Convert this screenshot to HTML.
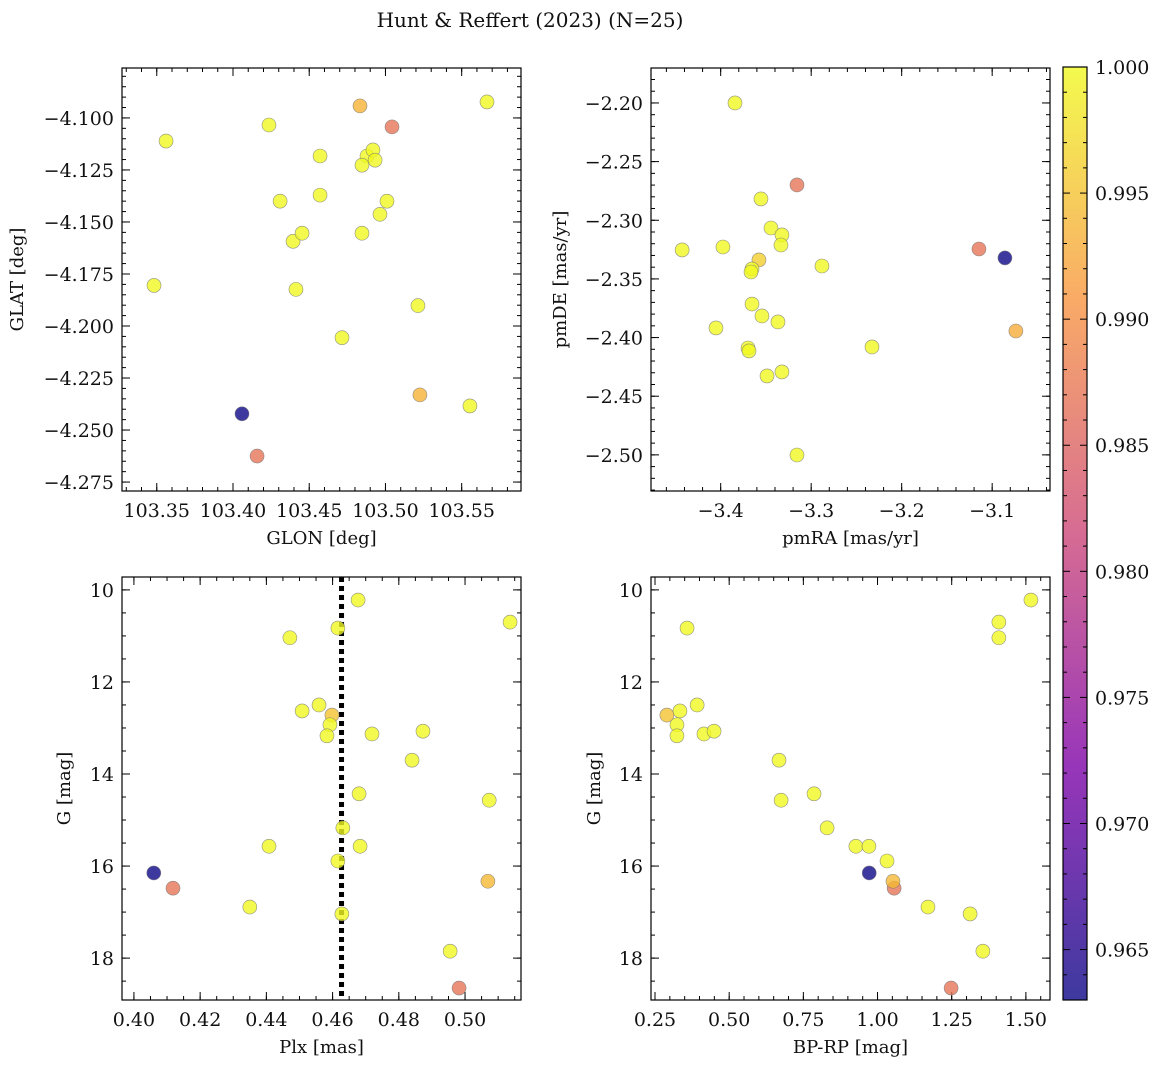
<!DOCTYPE html>
<html><head><meta charset="utf-8"><style>
body{margin:0;background:#fff;}
svg text{font-family:"DejaVu Serif","Liberation Serif",serif;fill:#111;}
</style></head><body>
<svg id="fig" width="1161" height="1067" xmlns="http://www.w3.org/2000/svg">
<defs><linearGradient id="plasma" x1="0" y1="1" x2="0" y2="0">
<stop offset="0" stop-color="#0d0887"/><stop offset="0.25" stop-color="#7e03a8"/><stop offset="0.5" stop-color="#cc4778"/><stop offset="0.75" stop-color="#f89540"/><stop offset="1" stop-color="#f0f921"/></linearGradient></defs>
<text x="530" y="27" font-size="20" text-anchor="middle">Hunt &amp; Reffert (2023) (N=25)</text>
</svg>
<script>
const glon=[103.4833,103.5043,103.5666,103.4236,103.3561,103.4571,103.4879,103.4918,103.4932,103.4846,103.4309,103.4571,103.5010,103.4964,103.4394,103.4453,103.4846,103.3482,103.4413,103.5213,103.4715,103.5226,103.5554,103.4059,103.4158];
const glat=[-4.0942,-4.1043,-4.0923,-4.1034,-4.1111,-4.1183,-4.1183,-4.1154,-4.1203,-4.1227,-4.1400,-4.1371,-4.1400,-4.1463,-4.1593,-4.1554,-4.1554,-4.1805,-4.1824,-4.1902,-4.2056,-4.2331,-4.2384,-4.2422,-4.2625];
const glatC=[0.9935,0.987,1,1,1,1,1,1,1,1,1,1,1,1,1,1,1,1,1,1,1,0.9935,1,0.963,0.987];
const pmra=[-3.3842,-3.3157,-3.3555,-3.3444,-3.3323,-3.3334,-3.3577,-3.3654,-3.3665,-3.2881,-3.1146,-3.0859,-3.4426,-3.3975,-3.3654,-3.3544,-3.3367,-3.4052,-3.3698,-3.3687,-3.0738,-3.2328,-3.3488,-3.3323,-3.3157];
const pmde=[-2.200,-2.2699,-2.2818,-2.3066,-2.3125,-2.3211,-2.3338,-2.3415,-2.3441,-2.3390,-2.3245,-2.3321,-2.3253,-2.3228,-2.3714,-2.3816,-2.3867,-2.3918,-2.4089,-2.4114,-2.3944,-2.4080,-2.4327,-2.4293,-2.5001];
const pmC=[1,0.987,1,1,1,1,0.996,1,1,1,0.987,0.963,1,1,1,1,1,1,1,1,0.993,1,1,1,1];
const plx=[0.4677,0.4616,0.5136,0.4471,0.4559,0.4508,0.4598,0.4592,0.4583,0.4719,0.4873,0.4840,0.4680,0.5073,0.4631,0.4408,0.4683,0.4616,0.4060,0.4118,0.5069,0.4350,0.4628,0.4955,0.4982];
const gmag=[10.22,10.83,10.70,11.04,12.50,12.63,12.72,12.93,13.17,13.13,13.07,13.70,14.43,14.57,15.17,15.57,15.57,15.89,16.15,16.48,16.33,16.89,17.04,17.85,18.65];
const gC=[1,1,1,1,1,1,0.995,1,1,1,1,1,1,1,1,1,1,1,0.963,0.987,0.994,1,1,1,0.987];
const bprp=[1.517,0.358,1.409,1.409,0.392,0.334,0.290,0.324,0.324,0.415,0.449,0.668,0.786,0.675,0.830,0.927,0.971,1.032,0.972,1.056,1.052,1.170,1.312,1.355,1.248];
const plxLine=[0.4627];
const NS="http://www.w3.org/2000/svg";
const svg=document.getElementById('fig');
function mk(t,a,p){const e=document.createElementNS(NS,t);for(const k in a)e.setAttribute(k,a[k]);(p||svg).appendChild(e);return e;}
const stops=[[0,[13,8,135]],[0.25,[126,3,168]],[0.5,[204,71,120]],[0.75,[248,149,64]],[1,[240,249,33]]];
const cmin=0.963,cmax=1.0;
function cmap(v){let t=Math.max(0,Math.min(1,(v-cmin)/(cmax-cmin)));for(let i=1;i<stops.length;i++){if(t<=stops[i][0]){const a=stops[i-1],b=stops[i];const f=(t-a[0])/(b[0]-a[0]);return 'rgb('+a[1].map((c,j)=>Math.round(c+(b[1][j]-c)*f)).join(',')+')';}}return 'rgb(240,249,33)';}
function fmt(v,d){return (v<-1e-9?'\u2212':'')+Math.abs(v).toFixed(d);}
function panel(o){
 const {x0,y0,x1,y1,xr,yr}=o;
 const sx=v=>x0+(v-xr[0])/(xr[1]-xr[0])*(x1-x0);
 const sy=v=>y1-(v-yr[0])/(yr[1]-yr[0])*(y1-y0);
 const g=mk('g',{});
 const ticks=(lo,hi,st)=>{const r=[];for(let v=Math.ceil(lo/st-1e-6)*st;v<=hi+1e-9;v+=st)r.push(v);return r;};
 const tx=ticks(Math.min(...xr),Math.max(...xr),o.xt),mx=ticks(Math.min(...xr),Math.max(...xr),o.xm);
 const ty=ticks(Math.min(...yr),Math.max(...yr),o.yt),my=ticks(Math.min(...yr),Math.max(...yr),o.ym);
 mx.forEach(v=>{const X=sx(v);mk('line',{x1:X,x2:X,y1:y1,y2:y1-4,stroke:'#000'},g);mk('line',{x1:X,x2:X,y1:y0,y2:y0+4,stroke:'#000'},g);});
 my.forEach(v=>{const Y=sy(v);mk('line',{x1:x0,x2:x0+4,y1:Y,y2:Y,stroke:'#000'},g);mk('line',{x1:x1,x2:x1-4,y1:Y,y2:Y,stroke:'#000'},g);});
 tx.forEach(v=>{const X=sx(v);mk('line',{x1:X,x2:X,y1:y1,y2:y1-8,stroke:'#000'},g);mk('line',{x1:X,x2:X,y1:y0,y2:y0+8,stroke:'#000'},g);
  const t=mk('text',{x:X,y:y1+26,'font-size':19,'text-anchor':'middle'},g);t.textContent=fmt(v,o.xd);});
 ty.forEach(v=>{const Y=sy(v);mk('line',{x1:x0,x2:x0+8,y1:Y,y2:Y,stroke:'#000'},g);mk('line',{x1:x1,x2:x1-8,y1:Y,y2:Y,stroke:'#000'},g);
  const t=mk('text',{x:x0-8,y:Y+7,'font-size':19,'text-anchor':'end'},g);t.textContent=fmt(v,o.yd);});
 if(o.vline){const X=sx(o.vline);const l=mk('line',{x1:X,x2:X,y1:y0,y2:y1,stroke:'#000','stroke-width':5,'stroke-dasharray':'5,4'},g);}
 o.xs.forEach((v,i)=>{const c=mk('circle',{cx:sx(v),cy:sy(o.ys[i]),r:7,fill:cmap(o.cs[i]),'fill-opacity':0.8,stroke:'#777','stroke-width':0.6,'stroke-opacity':0.8},g);});
 mk('rect',{x:x0,y:y0,width:x1-x0,height:y1-y0,fill:'none',stroke:'#000','stroke-width':1.2},g);
 const xl=mk('text',{x:(x0+x1)/2,y:y1+53,'font-size':18,'text-anchor':'middle'},g);xl.textContent=o.xl;
 const yl=mk('text',{x:o.ylx,y:(y0+y1)/2,'font-size':18,'text-anchor':'middle',transform:`rotate(-90 ${o.ylx} ${(y0+y1)/2})`},g);yl.textContent=o.yl;
}
panel({name:'glon-glat-panel',x0:122,y0:68,x1:521,y1:491,xr:[103.3272,103.5889],yr:[-4.2793,-4.076],xt:0.05,xm:0.01,yt:0.025,ym:0.005,xd:2,yd:3,xs:glon,ys:glat,cs:glatC,xl:'GLON [deg]',yl:'GLAT [deg]',ylx:23});
panel({name:'proper-motion-panel',x0:651,y0:68,x1:1050,y1:491,xr:[-3.477,-3.0361],yr:[-2.5308,-2.1702],xt:0.1,xm:0.02,yt:0.05,ym:0.01,xd:1,yd:2,xs:pmra,ys:pmde,cs:pmC,xl:'pmRA [mas/yr]',yl:'pmDE [mas/yr]',ylx:566});
panel({name:'plx-g-panel',x0:122,y0:577,x1:521,y1:1000,xr:[0.3964,0.5169],yr:[18.91,9.72],xt:0.02,xm:0.005,yt:2,ym:0.5,xd:2,yd:0,xs:plx,ys:gmag,cs:gC,xl:'Plx [mas]',yl:'G [mag]',ylx:70,vline:plxLine[0]});
panel({name:'cmd-panel',x0:651,y0:577,x1:1050,y1:1000,xr:[0.2365,1.5813],yr:[18.91,9.72],xt:0.25,xm:0.05,yt:2,ym:0.5,xd:2,yd:0,xs:bprp,ys:gmag,cs:gC,xl:'BP-RP [mag]',yl:'G [mag]',ylx:600});
const cb=mk('g',{});
const cy0=67,cy1=1000,cx0=1063,cx1=1087;const cs=v=>cy1-(v-cmin)/(cmax-cmin)*(cy1-cy0);
mk('rect',{x:cx0,y:cy0,width:cx1-cx0,height:cy1-cy0,fill:'url(#plasma)','fill-opacity':0.8},cb);
for(let k=963;k<=1000;k++){const Y=cs(k/1000);const maj=k%5===0;mk('line',{x1:cx1,x2:cx1-(maj?7:4),y1:Y,y2:Y,stroke:'#000'},cb);mk('line',{x1:cx0,x2:cx0+(maj?7:4),y1:Y,y2:Y,stroke:'#000'},cb);
 if(maj){const t=mk('text',{x:cx1+8,y:Y+7,'font-size':19},cb);t.textContent=(k/1000).toFixed(3);}}
mk('rect',{x:cx0,y:cy0,width:cx1-cx0,height:cy1-cy0,fill:'none',stroke:'#000','stroke-width':1.2},cb);
</script>
</body></html>
